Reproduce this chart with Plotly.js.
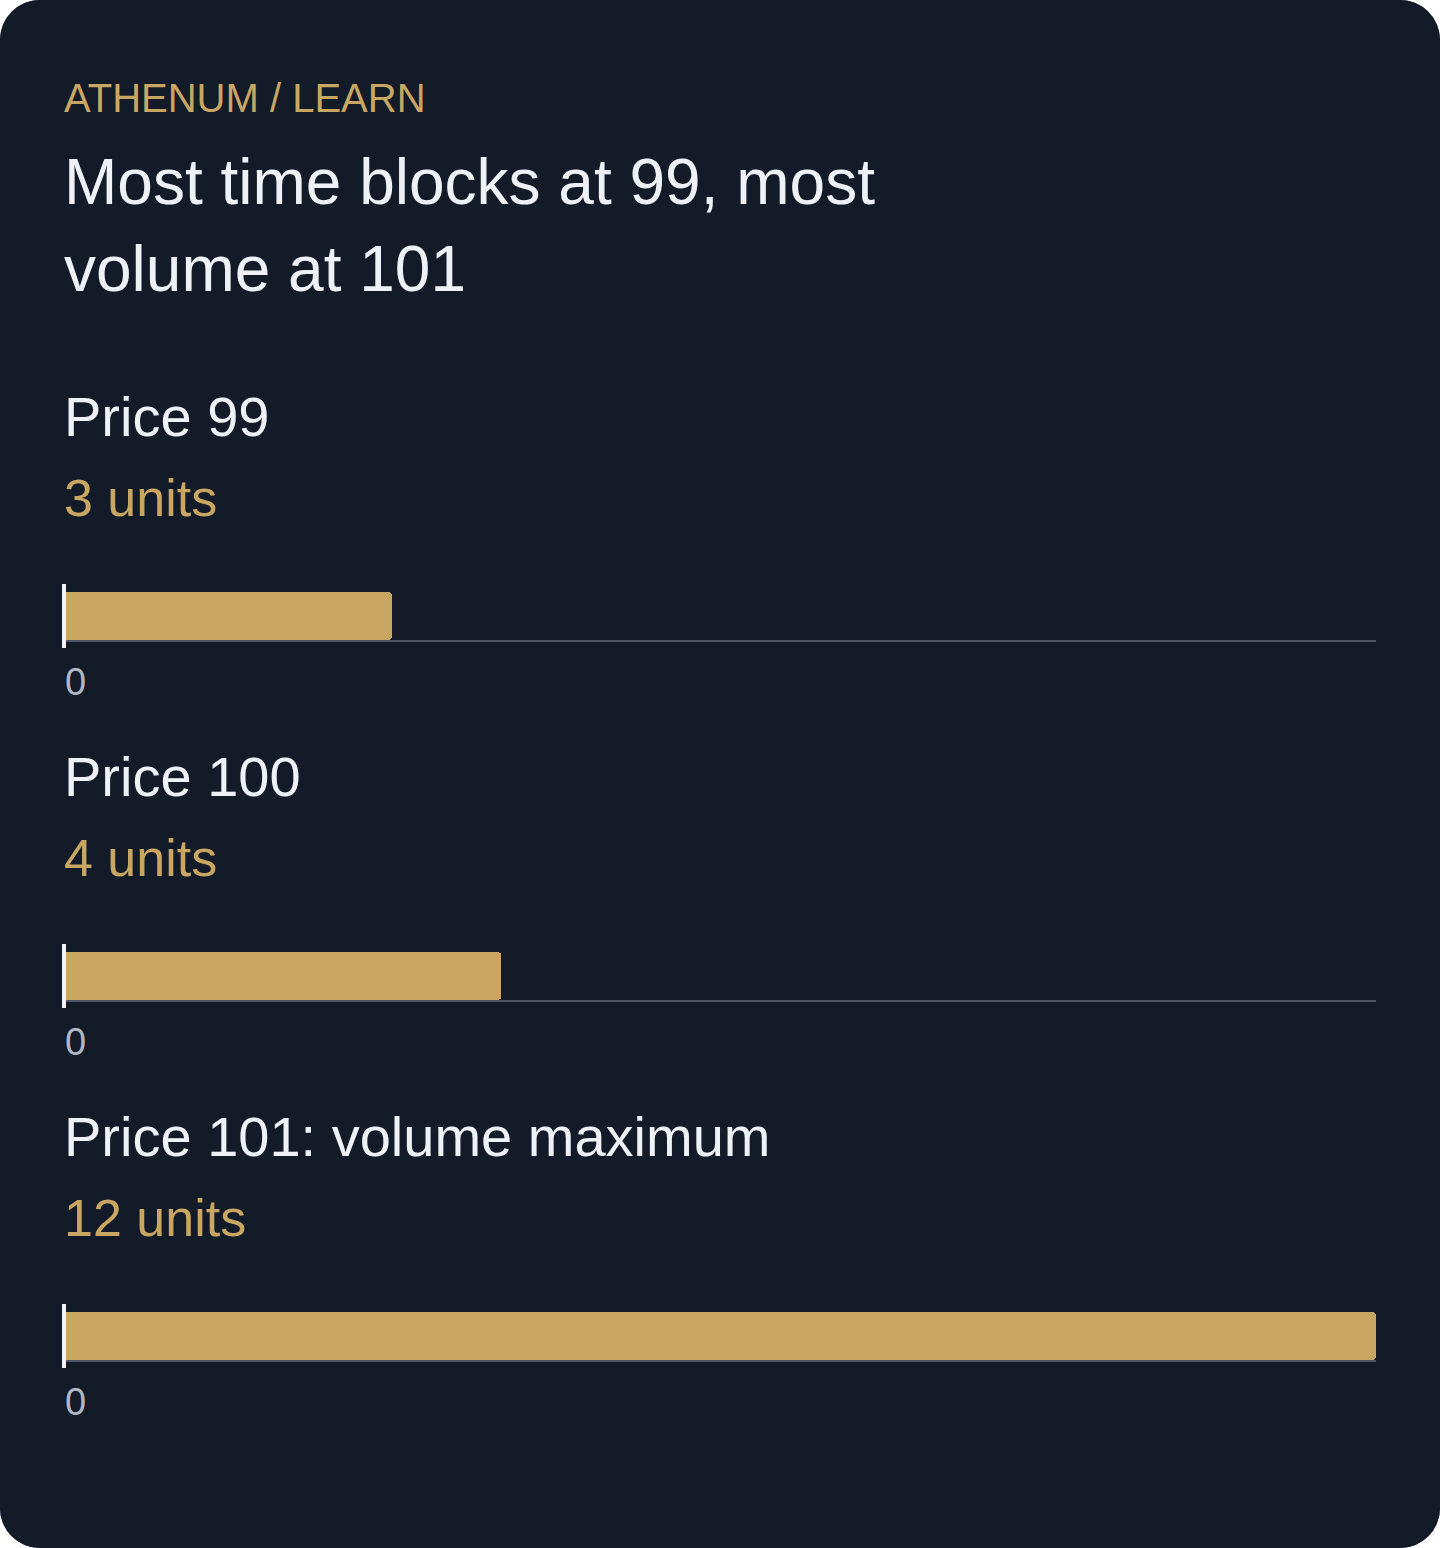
<!DOCTYPE html>
<html>
<head>
<meta charset="utf-8">
<script src="https://cdn.plot.ly/plotly-3.0.1.min.js"></script>
<style>
  html, body { margin: 0; padding: 0; background: #ffffff; }
  #card {
    width: 1440px; height: 1548px;
    border-radius: 40px; overflow: hidden;
    background: #131a28;
  }
</style>
</head>
<body>
<div id="card"><div id="chart"></div></div>
<script>
// data
const eyebrow = "ATHENUM / LEARN";
const titleLines = ["Most time blocks at 99, most", "volume at 101"];
const prices = ["99", "100", "101"];
const panelLabels = ["Price 99", "Price 100", "Price 101: volume maximum"];
const units = [3, 4, 12];
const xMax = 12;

const W = 1440, H = 1548;
const bg = "#131a28";
const gold = "#c9a763";
const white = "#eef2f7";
const font = "Liberation Sans, Arial, Helvetica, sans-serif";

// pixel -> paper y
const py = px => 1 - px / H;

let traces = [];
let annotations = [];
let shapes = [];
let layout = {
  width: W,
  height: H,
  margin: {l: 64, r: 64, t: 0, b: 0},
  paper_bgcolor: bg,
  plot_bgcolor: bg,
  showlegend: false,
  bargap: 0,
  font: {family: font, color: white},
  hovermode: false
};

annotations.push({
  xref: "paper", yref: "paper", x: 0, y: py(74), xanchor: "left", yanchor: "top", xshift: -2,
  text: eyebrow, showarrow: false, font: {size: 40, color: gold}
});
titleLines.forEach((t, i) => {
  annotations.push({
    xref: "paper", yref: "paper", x: 0, y: py(144 + 87 * i), xanchor: "left", yanchor: "top", xshift: -2,
    text: t, showarrow: false, font: {size: 64, color: white}
  });
});

for (let i = 0; i < prices.length; i++) {
  const n = i === 0 ? "" : String(i + 1);
  const top = 592 + 360 * i;
  const bottom = top + 48;

  traces.push({
    type: "bar",
    orientation: "h",
    x: [units[i]],
    y: ["Price " + prices[i]],
    xaxis: "x" + n,
    yaxis: "y" + n,
    marker: {color: gold, cornerradius: 4},
    hoverinfo: "skip"
  });

  layout["xaxis" + n] = {
    anchor: "y" + n,
    domain: [0, 1],
    range: [0, xMax],
    showgrid: false,
    zeroline: false,
    showline: true,
    linecolor: "#4b5565",
    linewidth: 2,
    tickvals: [0],
    ticks: "",
    ticklabelposition: "outside right",
    ticklabelstandoff: 7,
    tickfont: {size: 38, color: "#b0b7c3", family: font},
    fixedrange: true
  };
  layout["yaxis" + n] = {
    anchor: "x" + n,
    domain: [py(bottom), py(top)],
    showgrid: false,
    zeroline: false,
    showline: false,
    showticklabels: false,
    ticks: "",
    fixedrange: true
  };

  // white baseline marker at x = 0 (start of the axis)
  shapes.push({
    type: "line", xref: "paper", yref: "y" + n + " domain",
    x0: 0, x1: 0, y0: -8 / 48, y1: 1 + 8 / 48,
    line: {color: "#f1f3f7", width: 4}
  });

  annotations.push({
    xref: "paper", yref: "paper", x: 0, y: py(383 + 360 * i), xanchor: "left", yanchor: "top", xshift: -2,
    text: panelLabels[i], showarrow: false, font: {size: 56, color: white}
  });
  annotations.push({
    xref: "paper", yref: "paper", x: 0, y: py(467 + 360 * i), xanchor: "left", yanchor: "top", xshift: -2,
    text: units[i] + " units", showarrow: false, font: {size: 52, color: gold}
  });
}

layout.annotations = annotations;
layout.shapes = shapes;

Plotly.newPlot("chart", traces, layout, {displayModeBar: false, staticPlot: true});
</script>
</body>
</html>
